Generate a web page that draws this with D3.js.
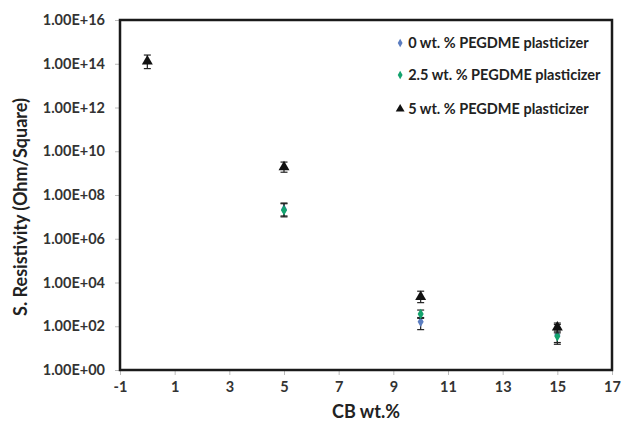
<!DOCTYPE html>
<html>
<head>
<meta charset="utf-8">
<script src="https://cdn.jsdelivr.net/npm/d3@7"></script>
<style>
  body { margin: 0; background: #fff; }
  text { font-family: Lato, "Open Sans", sans-serif; font-weight: bold; }
</style>
</head>
<body>
<div id="chart"></div>
<script>
// data
const cbWt = [0, 5, 10, 15];
const xTicks = [-1, 1, 3, 5, 7, 9, 11, 13, 15, 17];
const yTicks = [1e0, 1e2, 1e4, 1e6, 1e8, 1e10, 1e12, 1e14, 1e16];

const seriesNames = ["0 wt. % PEGDME plasticizer", "2.5 wt. % PEGDME plasticizer", "5 wt. % PEGDME plasticizer"];

// 0 wt.% (no point at 0 CB)
const res0 = [null, 2.2e7, 1.6e2, 4.0e1];
const lo0  = [null, 1.1e7, 7.0e1, 1.5e1];
const hi0  = [null, 4.0e7, 2.5e2, 1.2e2];

// 2.5 wt.%
const res25 = [null, 2.0e7, 3.6e2, 3.5e1];
const lo25  = [null, 1.0e7, 2.3e2, 1.8e1];
const hi25  = [null, 4.3e7, 5.5e2, 6.0e1];

// 5 wt.%
const res5 = [1.3e14, 1.9e9, 2.2e3, 9.0e1];
const lo5  = [6.0e13, 1.1e9, 1.2e3, 5.0e1];
const hi5  = [2.5e14, 3.2e9, 4.0e3, 1.4e2];

const colors = ["#5b7dc0", "#14a36e", "#111111"];
const shapes = [d3.symbolDiamond, d3.symbolDiamond, d3.symbolTriangle];

const margin = {top: 20, right: 12, bottom: 66, left: 120},
    width = 624 - margin.left - margin.right,
    height = 436 - margin.top - margin.bottom;

const svg = d3.select("#chart")
  .append("svg")
    .attr("width", 624)
    .attr("height", 436)
  .append("g")
    .attr("transform", `translate(${margin.left},${margin.top})`);

const x = d3.scaleLinear().domain([-1, 17]).range([0, width]);
const y = d3.scaleLog().domain([1, 1e16]).range([height, 0]);

// axes
const xAxis = svg.append("g")
  .attr("transform", `translate(0,${height})`)
  .call(d3.axisBottom(x).tickValues(xTicks).tickSize(5).tickPadding(7).tickFormat(d => String(d)));
const yAxis = svg.append("g")
  .call(d3.axisLeft(y).tickValues(yTicks).tickSize(5).tickPadding(10)
    .tickFormat(d => "1.00E+" + String(Math.round(Math.log10(d))).padStart(2, "0")));

[xAxis, yAxis].forEach(g => {
  g.select(".domain").remove();
  g.selectAll(".tick line").attr("stroke", "#bbb");
  g.selectAll(".tick text").attr("fill", "#333").style("font-size", "14.5px");
});

// frame
svg.append("rect")
  .attr("width", width)
  .attr("height", height)
  .attr("fill", "none")
  .attr("stroke", "#1a1a1a")
  .attr("stroke-width", 2.5);

// axis titles
svg.append("text")
  .attr("x", width / 2)
  .attr("y", height + 48)
  .attr("text-anchor", "middle")
  .attr("fill", "#222")
  .style("font-size", "18px")
  .text("CB wt.%");

svg.append("text")
  .attr("transform", `translate(${-93},${height / 2 + 12}) rotate(-90)`)
  .attr("text-anchor", "middle")
  .attr("fill", "#222")
  .style("font-size", "18px")
  .text("S. Resistivity (Ohm/Square)");

// points with error bars
const series = [
  {vals: res0, lo: lo0, hi: hi0},
  {vals: res25, lo: lo25, hi: hi25},
  {vals: res5, lo: lo5, hi: hi5}
];

series.forEach((s, k) => {
  const pts = cbWt.map((c, i) => ({c: c, v: s.vals[i], lo: s.lo[i], hi: s.hi[i]}))
    .filter(d => d.v != null);
  const g = svg.append("g");
  g.selectAll("line.bar").data(pts).join("line")
    .attr("x1", d => x(d.c)).attr("x2", d => x(d.c))
    .attr("y1", d => y(d.lo)).attr("y2", d => y(d.hi))
    .attr("stroke", "#222").attr("stroke-width", 1.2);
  g.selectAll("line.capl").data(pts).join("line")
    .attr("x1", d => x(d.c) - 3.5).attr("x2", d => x(d.c) + 3.5)
    .attr("y1", d => y(d.lo)).attr("y2", d => y(d.lo))
    .attr("stroke", "#222").attr("stroke-width", 1.2);
  g.selectAll("line.caph").data(pts).join("line")
    .attr("x1", d => x(d.c) - 3.5).attr("x2", d => x(d.c) + 3.5)
    .attr("y1", d => y(d.hi)).attr("y2", d => y(d.hi))
    .attr("stroke", "#222").attr("stroke-width", 1.2);
  g.selectAll("path").data(pts).join("path")
    .attr("transform", d => `translate(${x(d.c)},${y(d.v)})`)
    .attr("d", d3.symbol(shapes[k], k == 2 ? 52 : 32))
    .attr("fill", colors[k]);
});

// legend
const legend = svg.append("g")
  .attr("transform", `translate(${x(9.25)},0)`);
seriesNames.forEach((name, k) => {
  const row = legend.append("g").attr("transform", `translate(0,${[23, 55, 89][k]})`);
  row.append("path")
    .attr("d", d3.symbol(shapes[k], k == 2 ? 34 : 20))
    .attr("fill", colors[k]);
  row.append("text")
    .attr("x", 8)
    .attr("dy", "0.35em")
    .attr("fill", "#222")
    .style("font-size", "14.5px")
    .text(name);
});
</script>
</body>
</html>
